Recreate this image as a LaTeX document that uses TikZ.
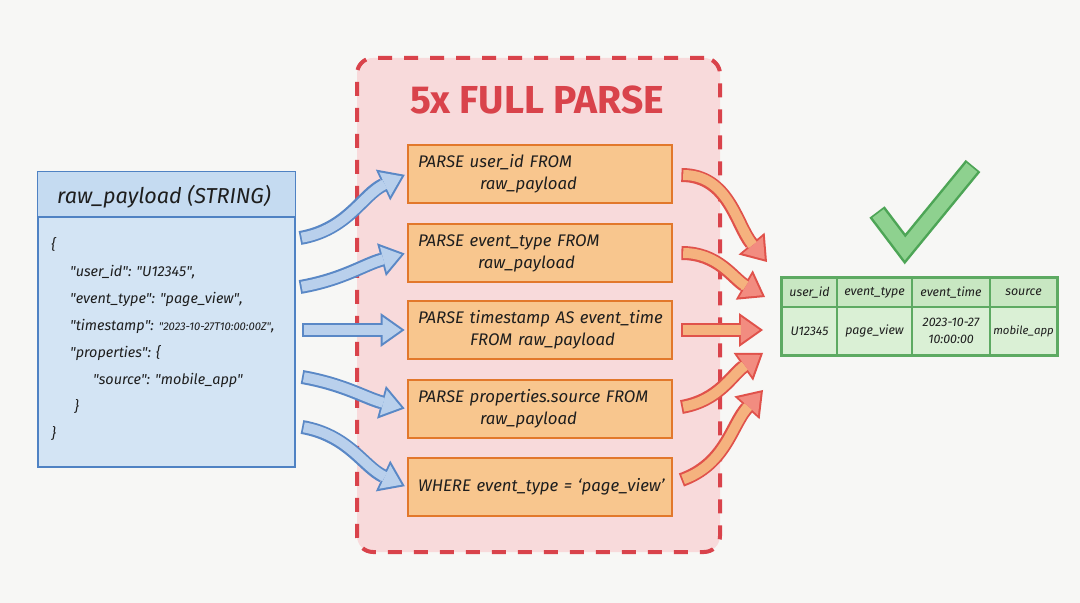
\documentclass[tikz,border=0pt]{standalone}
\usepackage{fontspec}
\setmainfont{Fira Sans}
\usetikzlibrary{arrows.meta,calc}
\definecolor{bg}{HTML}{F7F7F5}
\definecolor{blueFill}{HTML}{D3E4F4}
\definecolor{blueHead}{HTML}{C5DBF1}
\definecolor{blueBd}{HTML}{4F82C3}
\definecolor{zoneFill}{HTML}{F8DADB}
\definecolor{zoneBd}{HTML}{D9434B}
\definecolor{orFill}{HTML}{F8C68E}
\definecolor{orBd}{HTML}{E2782B}
\definecolor{grFill}{HTML}{DAF0D5}
\definecolor{grHead}{HTML}{C8E7C2}
\definecolor{grBd}{HTML}{5DAA62}
\definecolor{abBd}{HTML}{5A88C6}
\definecolor{abFill}{HTML}{B9D0EC}
\definecolor{arBd}{HTML}{E0524B}
\definecolor{arFill}{HTML}{F5B27E}
\definecolor{arTip}{HTML}{F28C80}
\definecolor{ckBd}{HTML}{4DA556}
\definecolor{ckFill}{HTML}{8ED18F}
\definecolor{txt}{HTML}{1E1E1E}
\newcommand\q{\textquotedbl}
\tikzset{
  redzone/.style={draw=zoneBd, fill=zoneFill, line width=2pt, dash pattern=on 7pt off 6pt,
    rounded corners=8pt, minimum width=181.5pt, minimum height=247pt, inner sep=0pt},
  ztitle/.style={text=zoneBd, font=\fontsize{19.5}{22}\selectfont\bfseries\upshape},
  rawbox/.style={draw=blueBd, fill=blueFill, line width=1.2pt, minimum width=128.5pt,
    minimum height=147.5pt, inner sep=0pt},
  parsebox/.style={draw=orBd, fill=orFill, line width=1.4pt, minimum width=132pt,
    minimum height=29pt, inner xsep=5pt, inner ysep=0pt, text width=122pt, align=left, text=txt,
    font=\itshape\fontsize{8.4}{11}\selectfont},
  cell/.style={draw=grBd, line width=0.8pt, inner sep=0pt, align=center, text=txt,
    font=\itshape\fontsize{6.2}{8.5}\selectfont},
  bluearrowout/.style={line width=7pt, draw=abBd, shorten >=1pt,
    -{Triangle[length=12pt,width=17pt,line width=0pt]}},
  bluearrowin/.style={line width=5pt, draw=abFill, shorten >=2.75pt, shorten <=0.9pt,
    -{Triangle[length=9.3pt,width=13.1pt,line width=0pt]}},
  redarrowout/.style={line width=7pt, draw=arBd,
    -{Triangle[length=12pt,width=17pt,line width=0pt]}},
  redarrowin/.style={line width=5pt, draw=arFill, shorten >=1.75pt, shorten <=0.9pt,
    -{Triangle[length=9.3pt,width=13.1pt,line width=0pt,color=arTip,fill=arTip]}},
}
\newcommand\bluearrow[1]{\draw[bluearrowout] #1; \draw[bluearrowin] #1;}
\newcommand\redarrow[1]{\draw[redarrowout] #1; \draw[redarrowin] #1;}
\begin{document}
\begin{tikzpicture}[x=0.5pt,y=-0.5pt, font=\itshape]
\useasboundingbox (0,0) rectangle (1080,603);
\fill[bg] (0,0) rectangle (1080,603);

% red zone
\node[redzone] (zone) at (538.5,305) {};
\node[ztitle] (ztitle) at (537,100) {5x FULL PARSE};

% raw payload box
\node[rawbox] (raw) at (166.5,319.5) {};
\fill[blueHead] ($(raw.north west)+(1.5,1.5)$) rectangle ($(raw.north east)+(-1.5,46)$);
\draw[blueBd, line width=1.2pt] ($(raw.north west)+(0,46)$) -- ($(raw.north east)+(0,46)$);
\node[text=txt, font=\itshape\fontsize{10.8}{12}\selectfont] (rawtitle) at (164,197) {raw\_payload (STRING)};
\node[text=txt, anchor=north west, inner sep=0pt, align=left,
  font=\itshape\fontsize{7.2}{13.5}\selectfont] (json) at (51,237) {%
\{\\
\hspace*{1.3em}\q user\_id\q: \q U12345\q,\\
\hspace*{1.3em}\q event\_type\q: \q page\_view\q,\\
\hspace*{1.3em}\q timestamp\q: {\fontsize{5.6}{13.5}\selectfont\q 2023-10-27T10:00:00Z\q},\\
\hspace*{1.3em}\q properties\q: \{\\
\hspace*{2.9em}\q source\q: \q mobile\_app\q\\
\hspace*{1.6em}\}\\
\}};

% parse boxes
\node[parsebox] (p1) at (540,174) {\mbox{PARSE user\_id FROM}\\\hspace*{31pt}raw\_payload};
\node[parsebox] (p2) at (540,253) {\mbox{PARSE event\_type FROM}\\\hspace*{30pt}raw\_payload};
\node[parsebox] (p3) at (540,330) {\mbox{PARSE timestamp AS event\_time}\\\hspace*{26pt}\mbox{FROM raw\_payload}};
\node[parsebox] (p4) at (540,409) {\mbox{PARSE properties.source FROM}\\\hspace*{31pt}raw\_payload};
\node[parsebox] (p5) at (540,487) {\mbox{WHERE event\_type = ‘page\_view’}};

% blue arrows
\coordinate (bt1) at (300,238);
\coordinate (bt2) at (300,287);
\coordinate (bt3) at (302,330);
\coordinate (bt4) at (302,377);
\coordinate (bt5) at (302,427);
\bluearrow{(bt1) to[out=10,in=205] (p1.west)}
\bluearrow{(bt2) to[out=10,in=195] (p2.west)}
\bluearrow{(bt3) -- (p3.west)}
\bluearrow{(bt4) to[out=-10,in=165] (p4.west)}
\bluearrow{(bt5) to[out=-10,in=155] (p5.west)}

% table
\node[cell, fill=grHead, minimum width=27.5pt, minimum height=14.5pt] (h1) at (809.5,292.5) {user\_id};
\node[cell, fill=grHead, minimum width=37.5pt, minimum height=14.5pt] (h2) at (874.5,292.5) {event\_type};
\node[cell, fill=grHead, minimum width=39pt, minimum height=14.5pt] (h3) at (951,292.5) {event\_time};
\node[cell, fill=grHead, minimum width=33.5pt, minimum height=14.5pt] (h4) at (1023.5,292.5) {source};
\node[cell, fill=grFill, minimum width=27.5pt, minimum height=24pt] (c1) at (809.5,331) {U12345};
\node[cell, fill=grFill, minimum width=37.5pt, minimum height=24pt] (c2) at (874.5,331) {page\_view};
\node[cell, fill=grFill, minimum width=39pt, minimum height=24pt] (c3) at (951,331) {2023-10-27\\10:00:00};
\node[cell, fill=grFill, minimum width=33.5pt, minimum height=24pt, font=\itshape\fontsize{5.7}{8.5}\selectfont] (c4) at (1023.5,331) {mobile\_app};
\draw[grBd, line width=1.2pt] (h1.north west) rectangle (c4.south east);

% red arrows
\coordinate (rh1) at (767,262);
\coordinate (rh2) at (765,297);
\coordinate (rh3) at (763,330);
\coordinate (rh4) at (763,353);
\coordinate (rh5) at (763,390);
\redarrow{($(p1.east)+(8,1)$) to[out=0,in=130] (rh1)}
\redarrow{($(p2.east)+(8,0)$) to[out=0,in=150] (rh2)}
\redarrow{($(p3.east)+(8,0)$) -- (rh3)}
\redarrow{($(p4.east)+(8,-2)$) to[out=10,in=215] (rh4)}
\redarrow{($(p5.east)+(8,-7)$) to[out=20,in=228] (rh5)}

% check mark
\coordinate (ka) at (877,212);
\coordinate (kb) at (905,249);
\coordinate (kc) at (973,166);
\draw[ckBd, line width=9.5pt, line join=miter] (ka) -- (kb) -- (kc);
\draw[ckFill, line width=7pt, line join=miter, shorten <=0.9pt, shorten >=0.9pt] (ka) -- (kb) -- (kc);
\end{tikzpicture}
\end{document}
